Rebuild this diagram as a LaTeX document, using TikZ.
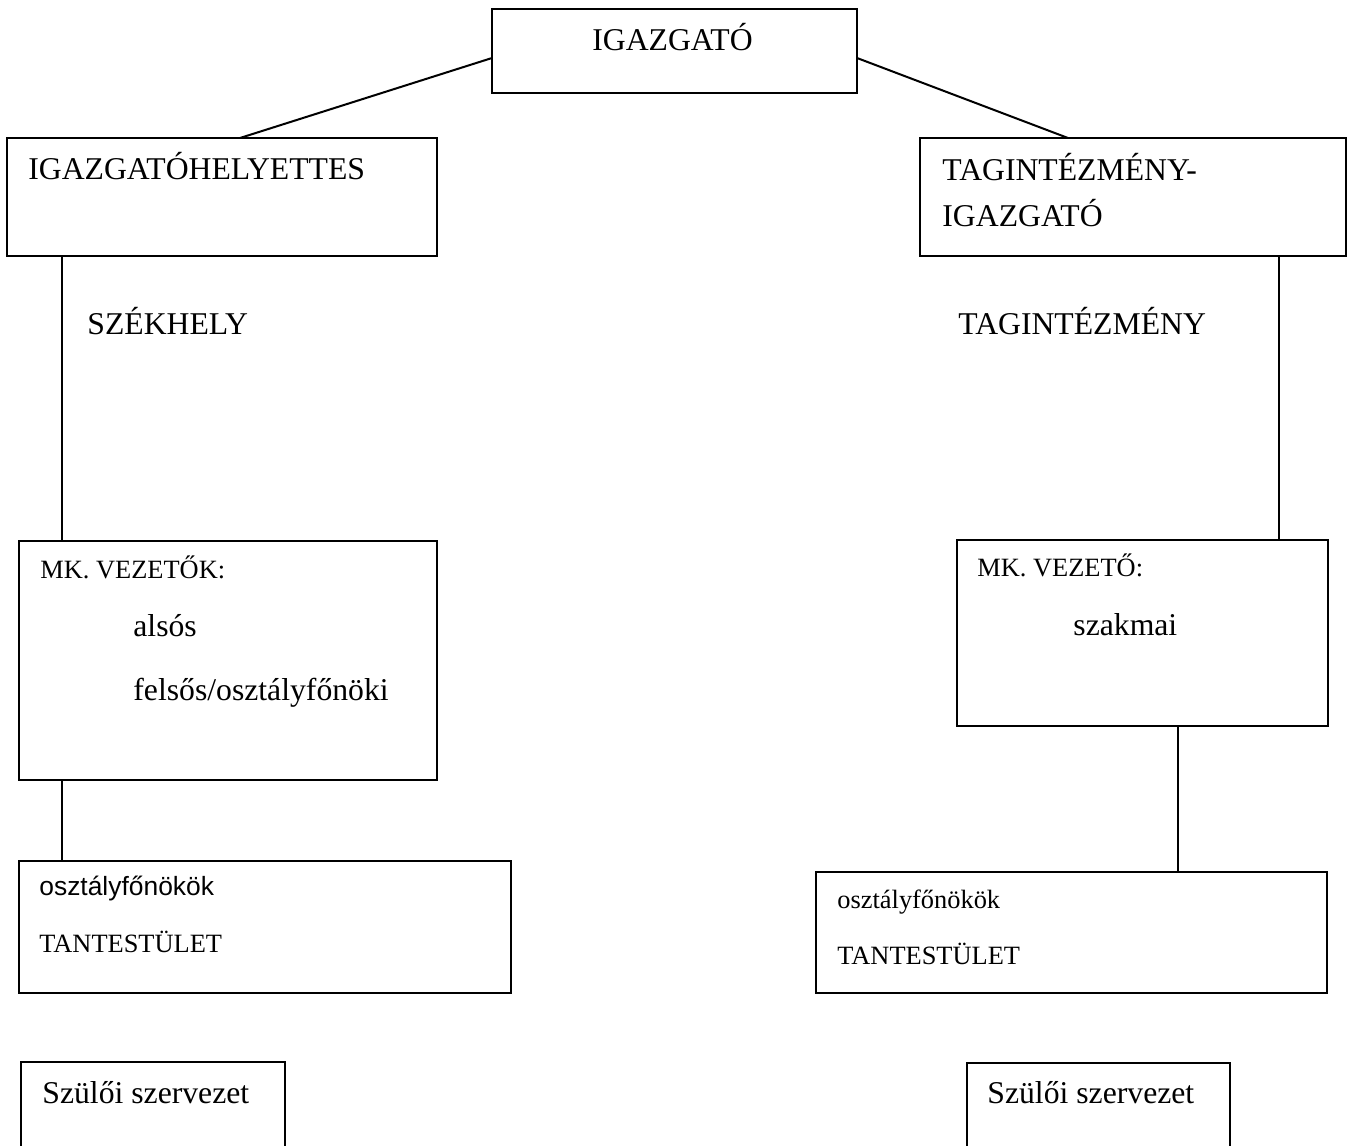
\documentclass[tikz,border=0pt]{standalone}
\usepackage{fontspec}
\setmainfont{Liberation Serif}
\newfontfamily\arialfont{Liberation Sans}
\usetikzlibrary{calc}
\tikzset{
  box/.style={draw, line width=1pt, inner sep=0pt, outer sep=0pt, anchor=north west},
  big/.style={anchor=base west, inner sep=0pt, font=\fontsize{15.85pt}{19pt}\selectfont},
  small/.style={anchor=base west, inner sep=0pt, font=\fontsize{13.2pt}{16pt}\selectfont},
  smallsans/.style={anchor=base west, inner sep=0pt, font=\arialfont\fontsize{13.2pt}{16pt}\selectfont},
  conn/.style={line width=1pt}
}
\begin{document}
\begin{tikzpicture}[x=0.5pt,y=-0.5pt]
\clip (0,0) rectangle (1352,1145);
\fill[white] (0,0) rectangle (1352,1145);
% boxes
\node[box, minimum width=182.5pt, minimum height=42pt] (ig) at (492,9) {};
\node[box, minimum width=215pt, minimum height=59pt] (igh) at (7,138) {};
\node[box, minimum width=213pt, minimum height=59pt] (tag) at (920,138) {};
\node[box, minimum width=209pt, minimum height=119.5pt] (mkl) at (19,541) {};
\node[box, minimum width=185.5pt, minimum height=93pt] (mkr) at (957,540) {};
\node[box, minimum width=246pt, minimum height=66pt] (ofl) at (19,861) {};
\node[box, minimum width=255.5pt, minimum height=60.5pt] (ofr) at (816,872) {};
\node[box, minimum width=132pt, minimum height=60pt] (szl) at (21,1062) {};
\node[box, minimum width=131.5pt, minimum height=60pt] (szr) at (967,1063) {};
% texts
\node[big] (t-ig) at (592,51) {IGAZGATÓ};
\node[big] (t-igh) at (28,179) {IGAZGATÓHELYETTES};
\node[big] (t-tag1) at (942,180) {TAGINTÉZMÉNY-};
\node[big] (t-tag2) at (942,226) {IGAZGATÓ};
\node[big] (t-szh) at (87,334) {SZÉKHELY};
\node[big] (t-tagi) at (958,334) {TAGINTÉZMÉNY};
\node[small] (t-mkl) at (40,578) {MK. VEZETŐK:};
\node[big] (t-also) at (133,636) {alsós};
\node[big] (t-felso) at (133,700) {felsős/osztályfőnöki};
\node[small] (t-mkr) at (977,576) {MK. VEZETŐ:};
\node[big] (t-szak) at (1073,635) {szakmai};
\node[smallsans] (t-ofl1) at (39,895) {osztályfőnökök};
\node[small] (t-ofl2) at (39,952) {TANTESTÜLET};
\node[small] (t-ofr1) at (837,908) {osztályfőnökök};
\node[small] (t-ofr2) at (837,964) {TANTESTÜLET};
\node[big] (t-szl) at (42,1103) {Szülői szervezet};
\node[big] (t-szr) at (987,1103) {Szülői szervezet};
% connectors
\draw[conn] ([yshift=-3.5pt]ig.west) -- ([xshift=116.5pt]igh.north west);
\draw[conn] ([yshift=-3.5pt]ig.east) -- ([xshift=74pt]tag.north west);
\draw[conn] ([xshift=27.5pt]igh.south west) -- ([xshift=27.5pt]igh.south west |- mkl.north);
\draw[conn] ([xshift=179.5pt]tag.south west) -- ([xshift=179.5pt]tag.south west |- mkr.north);
\draw[conn] ([xshift=21.5pt]mkl.south west) -- ([xshift=21.5pt]mkl.south west |- ofl.north);
\draw[conn] ([xshift=110.5pt]mkr.south west) -- ([xshift=110.5pt]mkr.south west |- ofr.north);
\end{tikzpicture}
\end{document}
